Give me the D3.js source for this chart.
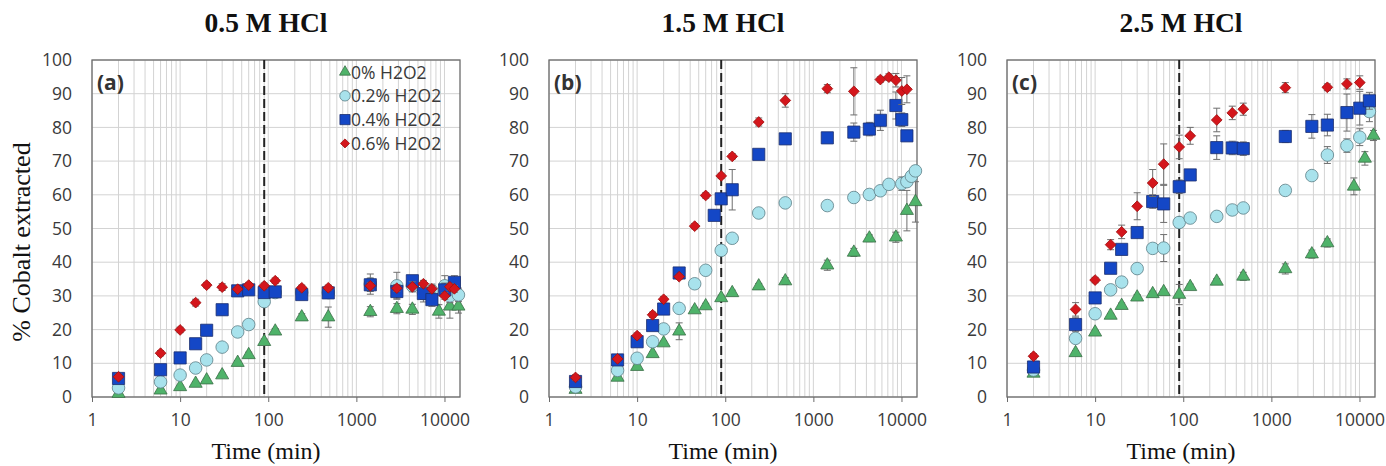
<!DOCTYPE html>
<html>
<head>
<meta charset="utf-8">
<script src="https://cdn.jsdelivr.net/npm/d3@7"></script>
<style>
body { margin: 0; background: #fff; }
</style>
</head>
<body>
<svg id="chart" width="1386" height="466"></svg>
<script>
// labels
var panelTitles = ["0.5 M HCl", "1.5 M HCl", "2.5 M HCl"];
var panelTags = ["(a)", "(b)", "(c)"];
var seriesNames = ["0% H2O2", "0.2% H2O2", "0.4% H2O2", "0.6% H2O2"];
var xTicks = [1, 10, 100, 1000, 10000];
var yTicks = [0, 10, 20, 30, 40, 50, 60, 70, 80, 90, 100];
var dashedTime = 90;

// [time (min), % Co extracted, error]
var a_h0 = [[2,1,0.3],[6,2,0.4],[10,3,0.5],[15,4,0.5],[20,5,0.5],[30,6.5,0.6],[45,10.2,0.6],[60,12.5,0.8],[90,16.4,0.8],[120,19.5,0.8],[240,23.7,1],[480,23.7,3],[1440,25.3,1.5],[2880,26.2,1.5],[4320,26,1.5],[8640,25.4,2],[11520,26.9,3.5],[14400,26.9,2]];
var a_h02 = [[2,2.7,0.5],[6,4.5,0.5],[10,6.5,0.5],[15,8.6,0.5],[20,11,0.5],[30,14.8,0.6],[45,19.3,0.8],[60,21.5,0.8],[90,28.3,1],[120,31,1],[240,31,1],[480,31,1],[1440,33.5,3],[2880,33,4],[4320,33,1.5],[5760,31,2],[7200,31.5,2],[10080,33,3],[11520,30,2],[14400,30.3,2]];
var a_h04 = [[2,5.5,0.5],[6,8.1,0.5],[10,11.6,0.5],[15,15.8,0.5],[20,19.8,0.5],[30,25.9,1.5],[45,31.5,0.8],[60,31.8,0.8],[90,31,1],[120,31.2,1.5],[240,30.4,1.5],[480,30.9,1],[1440,33.3,2],[2880,31.3,2],[4320,34.5,1.5],[5760,30.7,2.5],[7200,28.9,2],[10080,31.8,2],[12960,34,2]];
var a_h06 = [[2,6,0.8],[6,13,0.8],[10,19.9,0.8],[15,28,1],[20,33.2,0.8],[30,32.6,1],[45,32,0.8],[60,33.2,0.8],[90,33,0.8],[120,34.5,0.8],[240,32.4,0.8],[480,32.4,0.8],[1440,33,1],[2880,32.3,1],[4320,32.7,1.5],[5760,33.6,1],[7200,32.1,1],[10080,30,1],[11520,32.7,1],[12960,32.1,1]];

var b_h0 = [[2,2.2,0.4],[6,5.8,0.5],[10,9,0.5],[15,12.8,0.6],[20,16,0.6],[30,19.5,2.5],[45,25.8,0.8],[60,27,0.8],[90,29.4,0.8],[120,30.9,0.8],[240,32.9,0.8],[480,34.4,1],[1440,39.1,1.5],[2880,42.9,1.2],[4320,47.1,1],[8640,47.4,1.5],[11520,55.3,6],[14400,57.9,6]];
var b_h02 = [[2,3,0.4],[6,7.9,0.5],[10,11.5,0.5],[15,16.4,0.5],[20,20.2,0.6],[30,26.3,0.6],[45,33.6,0.6],[60,37.6,0.8],[90,43.5,1.5],[120,47.1,0.8],[240,54.6,0.8],[480,57.6,0.8],[1440,56.8,0.8],[2880,59.2,1.5],[4320,60.1,1],[5760,61.2,1],[7200,63.1,1],[10080,63.3,2],[11520,63.9,1],[12960,65.5,1],[14400,67.1,1]];
var b_h04 = [[2,4.6,0.5],[6,11,0.6],[10,16.4,1.5],[15,21.2,0.8],[20,26.1,0.8],[30,36.8,0.8],[75,53.9,1.5],[90,58.8,1],[120,61.5,6],[240,72,1.5],[480,76.6,1],[1440,76.9,1],[2880,78.6,2.7],[4320,79.5,2],[5760,82.1,3],[8640,86.5,4],[10080,82.3,2],[11520,77.5,1]];
var b_h06 = [[2,5.8,0.8],[6,11.3,0.8],[10,18.2,0.8],[15,24.4,0.8],[20,29,0.8],[30,35.7,0.8],[45,50.7,0.8],[60,59.8,0.8],[90,65.6,0.8],[120,71.4,0.8],[240,81.6,1.2],[480,88,2],[1440,91.5,1.2],[2880,90.7,7],[5760,94.2,0.8],[7200,94.9,1],[8640,94,2],[10080,90.8,4],[11520,91.3,4]];

var c_h0 = [[2,7,0.5],[6,13.1,0.6],[10,19.2,0.6],[15,24.2,0.6],[20,27.1,0.8],[30,29.6,0.8],[45,30.6,0.8],[60,31.2,0.8],[90,30.4,3],[120,32.7,0.8],[240,34.3,0.8],[480,35.8,1.2],[1440,38,1.5],[2880,42.4,1.2],[4320,45.7,1.2],[8640,62.5,2.5],[11520,70.8,2],[14400,77.6,1.5]];
var c_h02 = [[2,8,0.5],[6,17.4,0.6],[10,24.7,0.8],[15,31.8,0.6],[20,34.1,0.6],[30,38.1,0.6],[45,44.1,0.8],[60,44.2,4],[90,51.8,0.8],[120,53.1,0.8],[240,53.6,0.8],[360,55.5,0.8],[480,56.1,0.8],[1440,61.3,0.8],[2880,65.7,0.8],[4320,71.8,2.5],[7200,74.6,2],[10080,77.1,2.5],[12960,84.7,3]];
var c_h04 = [[2,8.9,0.5],[6,21.5,2],[10,29.4,0.8],[15,38.2,0.8],[20,43.8,0.8],[30,48.8,0.8],[45,58,2],[60,57.3,5.5],[90,62.4,2],[120,65.9,0.8],[240,74,3.5],[360,73.9,2],[480,73.7,2],[1440,77.3,1.8],[2880,80.3,3.5],[4320,80.7,3.2],[7200,84.4,5.5],[10080,85.7,5],[12960,87.9,2.5]];
var c_h06 = [[2,12.1,0.8],[6,26,2],[10,34.7,0.8],[15,45.2,1.5],[20,49,2],[30,56.6,4],[45,63.5,4],[60,69.1,6],[90,74.2,3.5],[120,77.5,2.5],[240,82.2,3.5],[360,84.3,2],[480,85.4,1.8],[1440,91.8,1.5],[4320,91.9,1],[7200,92.9,1.5],[10080,93.3,2]];

var panelData = [
    [a_h0, a_h02, a_h04, a_h06],
    [b_h0, b_h02, b_h04, b_h06],
    [c_h0, c_h02, c_h04, c_h06]
];

// marker look for each series
var markerFill = ["#4fb36a", "#a8e2ec", "#1447c6", "#d4161c"];
var markerStroke = ["#3b6e48", "#5d7f86", "#1c2f6e", "#a01010"];
var markerType = [d3.symbolTriangle, d3.symbolCircle, d3.symbolSquare, d3.symbolSquare];
var markerSize = [74, 124, 148, 58];
var markerRot = [0, 0, 0, 45];

var panelLeft = [92, 549, 1007];
var plotTop = 60, plotBottom = 397, plotW = 368;

var svg = d3.select("#chart");
var sansFont = "'Open Sans', 'DejaVu Sans', sans-serif";
var serifFont = "'Liberation Serif', 'Times New Roman', serif";

function drawPanel(p) {
    var h = plotBottom - plotTop;
    var x = d3.scaleLog().domain([1, 15000]).range([0, plotW]);
    var y = d3.scaleLinear().domain([0, 100]).range([h, 0]);

    var g = svg.append("g").attr("transform", "translate(" + panelLeft[p] + "," + plotTop + ")");

    // grid
    g.append("g").selectAll("line").data(x.ticks()).enter().append("line")
        .attr("x1", function(d){ return x(d); }).attr("x2", function(d){ return x(d); })
        .attr("y1", 0).attr("y2", h)
        .attr("stroke", "#d3d3d3").attr("stroke-width", 1);
    g.append("g").selectAll("line").data(yTicks).enter().append("line")
        .attr("x1", 0).attr("x2", plotW)
        .attr("y1", function(d){ return y(d); }).attr("y2", function(d){ return y(d); })
        .attr("stroke", "#d3d3d3").attr("stroke-width", 1);

    // axes
    var xa = g.append("g").attr("transform", "translate(0," + h + ")")
        .call(d3.axisBottom(x).tickValues(xTicks).tickFormat(d3.format("d")).tickSize(5).tickPadding(12));
    var ya = g.append("g")
        .call(d3.axisLeft(y).tickValues(yTicks).tickSize(0).tickPadding(20));
    [xa, ya].forEach(function(a){
        a.select(".domain").remove();
        a.selectAll("line").attr("stroke", "#6b6b6b");
        a.selectAll("text").attr("font-family", sansFont).attr("font-size", "17.5px").attr("fill", "#3a3a3a");
    });

    g.append("rect").attr("width", plotW).attr("height", h)
        .attr("fill", "none").attr("stroke", "#6b6b6b").attr("stroke-width", 1.3);

    // 90 min line
    g.append("line")
        .attr("x1", x(dashedTime)).attr("x2", x(dashedTime)).attr("y1", 0).attr("y2", h)
        .attr("stroke", "#222").attr("stroke-width", 2).attr("stroke-dasharray", "9,4");

    // series
    panelData[p].forEach(function(series, s){
        var sg = g.append("g");
        var eb = sg.selectAll("g.eb").data(series).enter().append("g")
            .attr("stroke", "#6e6e6e").attr("stroke-width", 1);
        eb.append("line")
            .attr("x1", function(d){ return x(d[0]); }).attr("x2", function(d){ return x(d[0]); })
            .attr("y1", function(d){ return y(d[1] - d[2]); }).attr("y2", function(d){ return y(d[1] + d[2]); });
        eb.append("line")
            .attr("x1", function(d){ return x(d[0]) - 3.5; }).attr("x2", function(d){ return x(d[0]) + 3.5; })
            .attr("y1", function(d){ return y(d[1] - d[2]); }).attr("y2", function(d){ return y(d[1] - d[2]); });
        eb.append("line")
            .attr("x1", function(d){ return x(d[0]) - 3.5; }).attr("x2", function(d){ return x(d[0]) + 3.5; })
            .attr("y1", function(d){ return y(d[1] + d[2]); }).attr("y2", function(d){ return y(d[1] + d[2]); });

        sg.selectAll("path").data(series).enter().append("path")
            .attr("d", d3.symbol().type(markerType[s]).size(markerSize[s]))
            .attr("transform", function(d){ return "translate(" + x(d[0]) + "," + y(d[1]) + ") rotate(" + markerRot[s] + ")"; })
            .attr("fill", markerFill[s]).attr("stroke", markerStroke[s]).attr("stroke-width", 0.8);
    });

    // panel tag
    g.append("text").attr("x", 5).attr("y", 30).text(panelTags[p])
        .attr("font-family", sansFont).attr("font-weight", "bold").attr("font-size", "21px").attr("fill", "#333");

    // title and x label, a bit left of the plot centre as in the source
    var cx = panelLeft[p] + plotW / 2 - 10;
    svg.append("text").attr("x", cx).attr("y", 32)
        .attr("text-anchor", "middle").text(panelTitles[p])
        .attr("font-family", serifFont).attr("font-weight", "bold").attr("font-size", "27.5px").attr("fill", "#111");

    svg.append("text").attr("x", cx).attr("y", 459)
        .attr("text-anchor", "middle").text("Time (min)")
        .attr("font-family", serifFont).attr("font-size", "24px").attr("fill", "#111");

    // legend only in (a)
    if (p == 0) {
        var lg = g.append("g").attr("transform", "translate(" + 253 + "," + 12 + ")");
        seriesNames.forEach(function(name, s){
            var row = lg.append("g").attr("transform", "translate(0," + (s * 23.8) + ")");
            row.append("path")
                .attr("d", d3.symbol().type(markerType[s]).size(markerSize[s] * 0.7))
                .attr("transform", "rotate(" + markerRot[s] + ")")
                .attr("fill", markerFill[s]).attr("stroke", markerStroke[s]).attr("stroke-width", 0.8);
            row.append("text").attr("x", 6).attr("y", 6.5).text(name)
                .attr("font-family", sansFont).attr("font-size", "17.5px").attr("fill", "#3a3a3a");
        });
    }
}

for (var p = 0; p < 3; p++) drawPanel(p);

svg.append("text")
    .attr("transform", "translate(30,242) rotate(-90)")
    .attr("text-anchor", "middle").text("% Cobalt extracted")
    .attr("font-family", serifFont).attr("font-size", "26px").attr("fill", "#111");
</script>
</body>
</html>
